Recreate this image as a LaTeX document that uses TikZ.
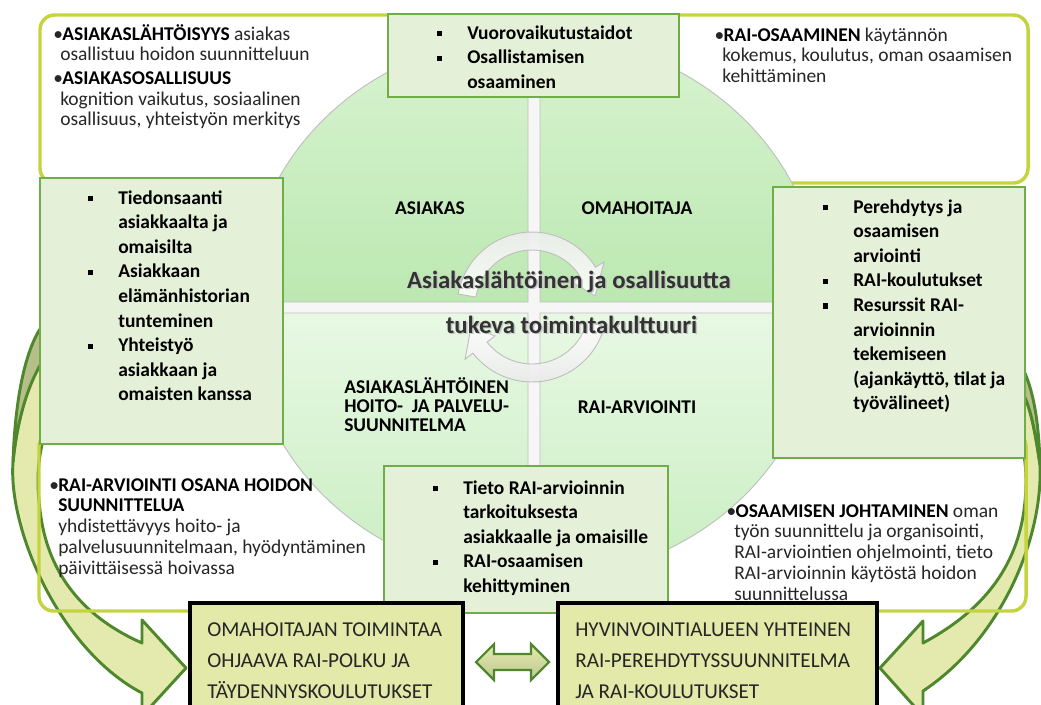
\documentclass[tikz,border=0pt]{standalone}
\usepackage{fontspec}
\setmainfont{Carlito}
\usetikzlibrary{calc}
\definecolor{frameY}{HTML}{C5D43E}
\definecolor{boxG}{HTML}{6FAD47}
\definecolor{boxF}{HTML}{E5F0D8}
\definecolor{qTopA}{HTML}{D8F3D1}
\definecolor{qTopB}{HTML}{BCE8B1}
\definecolor{qBotA}{HTML}{E8F8E4}
\definecolor{qBotB}{HTML}{C9EEC1}
\definecolor{botF}{HTML}{E3E9A8}
\definecolor{arrowF}{HTML}{E4EAAE}
\definecolor{arrowD}{HTML}{B6BF8A}
\definecolor{arrowL}{HTML}{4E872C}
\definecolor{txt}{HTML}{262626}
\definecolor{ctxt}{HTML}{333333}
\newcommand\bsq{\llap{\rule[2pt]{4pt}{4pt}\hspace{18.75pt}}}
\newcommand\bdot{\llap{\textbullet\hspace{-0.6pt}}}
\newcommand\hb[1]{{\bfseries\color{black}#1}}
\begin{document}
\begin{tikzpicture}[x=0.75pt,y=-0.75pt,
  outframe/.style={draw=frameY, line width=2.6pt, rounded corners=11pt},
  gbox/.style={draw=boxG, line width=1.5pt, fill=boxF},
  ybox/.style={draw=black, line width=2.6pt, fill=botF},
  bigarrow/.style={draw=arrowL, line width=2.2pt, fill=arrowF, line join=round},
  quad/.style={draw=gray!50, line width=0.7pt},
  cyc/.style={draw=gray!50, line width=0.7pt, fill opacity=0.9},
  ftext/.style={anchor=base west, inner sep=0pt, text=txt, font=\fontsize{14.6}{15.6}\selectfont},
  btext/.style={anchor=base west, inner sep=0pt, text=black, font=\fontsize{14.6}{18.45}\selectfont\bfseries},
  qlabel/.style={anchor=base, inner sep=0pt, text=black, font=\fontsize{14.6}{14.6}\selectfont\bfseries},
  ctext/.style={anchor=base, inner sep=0pt, font=\fontsize{18.6}{18.6}\selectfont\bfseries},
  bottext/.style={anchor=base west, inner sep=0pt, text=txt, font=\fontsize{15.9}{23.25}\selectfont},
]
\useasboundingbox (0,0) rectangle (1041,704);
\fill[white] (0,0) rectangle (1041,704);

% big curved arrows
\draw[bigarrow] (40,362) .. controls (28,385) and (17,420) .. (13,462)
  .. controls (8,530) and (60,650) .. (142,693)
  -- (142,716) -- (186,668) -- (142,620) -- (142,643)
  .. controls (90,620) and (48,580) .. (40,510)
  .. controls (36,480) and (38,455) .. (46,430) -- (46,362) -- cycle;
\draw[bigarrow, fill=arrowD] (42,326) .. controls (25,350) and (15,400) .. (13,462)
  .. controls (17,420) and (28,385) .. (42,362) -- cycle;

\draw[bigarrow] (1022,392) .. controls (1030,405) and (1035,430) .. (1040,465)
  .. controls (1043,540) and (1000,640) .. (923,691)
  -- (923,716) -- (880,668) -- (923,621) -- (923,643)
  .. controls (975,615) and (1015,575) .. (1024,510)
  .. controls (1028,480) and (1026,455) .. (1018,430) -- cycle;
\draw[bigarrow, fill=arrowD] (1022,367) .. controls (1034,390) and (1039,425) .. (1040,465)
  .. controls (1035,430) and (1030,405) .. (1022,392) -- cycle;

% frames
\draw[outframe] (40,15) rectangle (1028,183);
\draw[outframe] (39,432) rectangle (1026,611);

% circle base (white stripes) and quadrants
\fill[white!93!gray] plot[domain=0:360,samples=120] ({534+288*cos(\x)},{307.5+271*sin(\x)}) -- cycle;
\path[quad, top color=qTopA, bottom color=qTopB] (528,302) -- plot[domain=180:270,samples=50] ({528+282*cos(\x)},{302+265*sin(\x)}) -- cycle;
\path[quad, top color=qTopA, bottom color=qTopB] (540,302) -- plot[domain=270:360,samples=50] ({540+282*cos(\x)},{302+265*sin(\x)}) -- cycle;
\path[quad, top color=qBotA, bottom color=qBotB] (540,313) -- plot[domain=0:90,samples=50] ({540+282*cos(\x)},{313+265*sin(\x)}) -- cycle;
\path[quad, top color=qBotA, bottom color=qBotB] (528,313) -- plot[domain=90:180,samples=50] ({528+282*cos(\x)},{313+265*sin(\x)}) -- cycle;

% cycle arrows
\path[cyc, top color=gray!14, bottom color=white] plot[domain=190:328,samples=40] ({532+75*cos(\x)},{307+75*sin(\x)})
  -- ({532+85*cos(328)},{307+85*sin(328)})
  -- ({532+64*cos(350)},{307+64*sin(350)})
  -- ({532+47*cos(328)},{307+47*sin(328)})
  -- plot[domain=328:190,samples=40] ({532+57*cos(\x)},{307+57*sin(\x)}) -- cycle;
\path[cyc, top color=white, bottom color=gray!16] plot[domain=15:142,samples=40] ({532+75*cos(\x)},{307+75*sin(\x)})
  -- ({532+85*cos(142)},{307+85*sin(142)})
  -- ({532+64*cos(162)},{307+64*sin(162)})
  -- ({532+47*cos(142)},{307+47*sin(142)})
  -- plot[domain=142:15,samples=40] ({532+57*cos(\x)},{307+57*sin(\x)}) -- cycle;

% quadrant labels
\node[qlabel] (qa) at (430,214) {ASIAKAS};
\node[qlabel] (qo) at (637,214) {OMAHOITAJA};
\node[qlabel, anchor=base west] (qh) at (344,393) {\begin{tabular}[t]{@{}l@{}}ASIAKASLÄHTÖINEN\\ HOITO-\ \ JA PALVELU-\\ SUUNNITELMA\end{tabular}};
\node[qlabel] (qr) at (637,413) {RAI-ARVIOINTI};

% center text
\node[ctext, text=gray!45] (c1s) at (570.5,289.5) {Asiakaslähtöinen ja osallisuutta};
\node[ctext, text=ctxt] (c1) at (569,288) {Asiakaslähtöinen ja osallisuutta};
\node[ctext, text=gray!45] (c2s) at (573,334.5) {tukeva toimintakulttuuri};
\node[ctext, text=ctxt] (c2) at (571.5,333) {tukeva toimintakulttuuri};

% green boxes
\draw[gbox] (388,14) rectangle (679,97);
\draw[gbox] (40,178) rectangle (283,444);
\draw[gbox] (773,187) rectangle (1025,458);
\draw[gbox] (384,466) rectangle (668,613);

\node[btext] (tbt) at (467,39) {\begin{tabular}[t]{@{}l@{}}\bsq Vuorovaikutustaidot\\ \bsq Osallistamisen\\ osaaminen\end{tabular}};
\node[btext] (lbt) at (118,204) {\begin{tabular}[t]{@{}l@{}}\bsq Tiedonsaanti\\ asiakkaalta ja\\ omaisilta\\ \bsq Asiakkaan\\ elämänhistorian\\ tunteminen\\ \bsq Yhteistyö\\ asiakkaan ja\\ omaisten kanssa\end{tabular}};
\node[btext] (rbt) at (853,213) {\begin{tabular}[t]{@{}l@{}}\bsq Perehdytys ja\\ osaamisen\\ arviointi\\ \bsq RAI-koulutukset\\ \bsq Resurssit RAI-\\ arvioinnin\\ tekemiseen\\ (ajankäyttö, tilat ja\\ työvälineet)\end{tabular}};
\node[btext] (bbt) at (463,494) {\begin{tabular}[t]{@{}l@{}}\bsq Tieto RAI-arvioinnin\\ tarkoituksesta\\ asiakkaalle ja omaisille\\ \bsq RAI-osaamisen\\ kehittyminen\end{tabular}};

% frame texts
\node[ftext] (tl) at (60,40) {\begin{tabular}[t]{@{}l@{}}\hspace{1.5pt}\bdot\hb{ASIAKASLÄHTÖISYYS} asiakas\\ osallistuu hoidon suunnitteluun\\[2pt] \hspace{1.5pt}\bdot\hb{ASIAKASOSALLISUUS}\\ kognition vaikutus, sosiaalinen\\ osallisuus, yhteistyön merkitys\end{tabular}};
\node[ftext] (tr) at (722,41) {\begin{tabular}[t]{@{}l@{}}\hspace{1pt}\bdot\hb{RAI-OSAAMINEN} käytännön\\ kokemus, koulutus, oman osaamisen\\ kehittäminen\end{tabular}};
\node[ftext] (bl) at (58,491) {\begin{tabular}[t]{@{}l@{}}\bdot\hb{RAI-ARVIOINTI OSANA HOIDON}\\ \hb{SUUNNITTELUA}\\ yhdistettävyys hoito- ja\\ palvelusuunnitelmaan, hyödyntäminen\\ päivittäisessä hoivassa\end{tabular}};
\node[ftext] (br) at (734,517) {\begin{tabular}[t]{@{}l@{}}\hspace{1pt}\bdot\hb{OSAAMISEN JOHTAMINEN} oman\\ työn suunnittelu ja organisointi,\\ RAI-arviointien ohjelmointi, tieto\\ RAI-arvioinnin käytöstä hoidon\\ suunnittelussa\end{tabular}};

% bottom boxes
\draw[ybox] (190,603) rectangle (463,716);
\draw[ybox] (558,603) rectangle (877,716);
\node[bottext] (lb) at (207,636) {\begin{tabular}[t]{@{}l@{}}OMAHOITAJAN TOIMINTAA\\ OHJAAVA RAI-POLKU JA\\ TÄYDENNYSKOULUTUKSET\end{tabular}};
\node[bottext] (rb) at (575,636) {\begin{tabular}[t]{@{}l@{}}HYVINVOINTIALUEEN YHTEINEN\\ RAI-PEREHDYTYSSUUNNITELMA\\ JA RAI-KOULUTUKSET\end{tabular}};

% double arrow
\draw[draw=arrowL, line width=1.6pt, top color=arrowF, bottom color=arrowD!80!arrowF, line join=miter]
  (476,662) -- (494,644) -- (494,654) -- (531,654) -- (531,644) -- (549,662)
  -- (531,680) -- (531,670) -- (494,670) -- (494,680) -- cycle;
\end{tikzpicture}
\end{document}
